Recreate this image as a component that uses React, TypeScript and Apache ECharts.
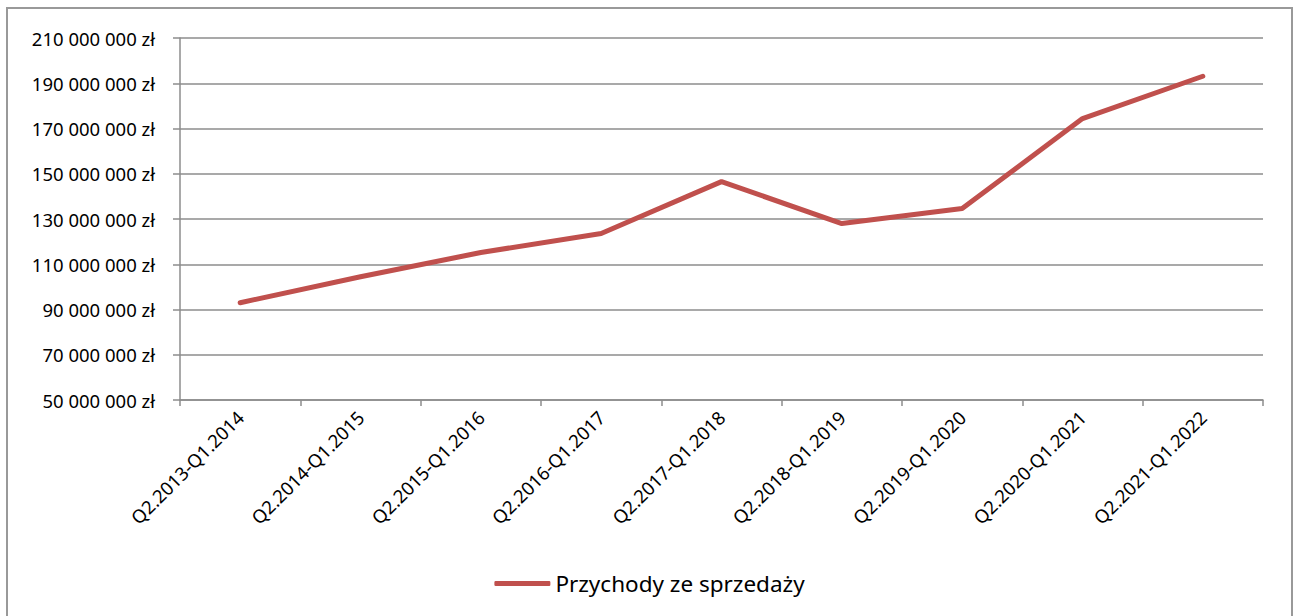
import React, { useEffect, useRef } from "react";
import * as echarts from "echarts";

const categories = [
  "Q2.2013-Q1.2014",
  "Q2.2014-Q1.2015",
  "Q2.2015-Q1.2016",
  "Q2.2016-Q1.2017",
  "Q2.2017-Q1.2018",
  "Q2.2018-Q1.2019",
  "Q2.2019-Q1.2020",
  "Q2.2020-Q1.2021",
  "Q2.2021-Q1.2022",
];
const revenue = [
  93000000, 104500000, 115200000, 123600000, 146500000, 128000000, 134600000,
  174400000, 193100000,
];
const seriesName = "Przychody ze sprzedaży";
const yMin = 50000000;
const yMax = 210000000;
const yStep = 20000000;

const fmt = (v: number) =>
  String(Math.round(v)).replace(/\B(?=(\d{3})+(?!\d))/g, " ") + " zł";

export default function App() {
  const ref = useRef<HTMLDivElement>(null);
  useEffect(() => {
    if (!ref.current) return;
    const chart = echarts.init(ref.current, null, { renderer: "svg" });
    const font = "'Noto Sans', sans-serif";
    chart.setOption({
      animation: false,
      backgroundColor: "#ffffff",
      textStyle: { fontFamily: font },
      grid: { left: 172, top: 29, width: 1083, height: 362 },
      xAxis: {
        type: "category",
        data: categories,
        boundaryGap: true,
        axisLine: { lineStyle: { color: "#8c8c8c", width: 1.5 } },
        axisTick: { show: true, length: 6, lineStyle: { color: "#8c8c8c", width: 1.5 } },
        axisLabel: {
          rotate: 45,
          fontSize: 18.5,
          color: "#000",
          fontFamily: font,
          margin: 14,
        },
      },
      yAxis: {
        type: "value",
        min: yMin,
        max: yMax,
        interval: yStep,
        axisLine: { show: true, lineStyle: { color: "#8c8c8c", width: 1.5 } },
        axisTick: { show: true, length: 7, lineStyle: { color: "#8c8c8c", width: 1.5 } },
        splitLine: { lineStyle: { color: "#8c8c8c", width: 1.5 } },
        axisLabel: {
          formatter: fmt,
          fontSize: 18.5,
          color: "#000",
          fontFamily: font,
          margin: 25,
        },
      },
      legend: {
        show: true,
        bottom: 16,
        left: "center",
        icon: "roundRect",
        itemWidth: 56,
        itemHeight: 5,
        textStyle: { fontSize: 22.5, color: "#000", fontFamily: font },
        data: [seriesName],
      },
      series: [
        {
          name: seriesName,
          type: "line",
          data: revenue,
          showSymbol: false,
          symbol: "none",
          lineStyle: { color: "#c0504d", width: 5, cap: "round", join: "round" },
          itemStyle: { color: "#c0504d" },
        },
      ],
    });
    return () => chart.dispose();
  }, []);
  return (
    <div
      style={{
        position: "absolute",
        left: 6,
        top: 7,
        width: 1287,
        height: 609,
        boxSizing: "border-box",
        borderTop: "2px solid #999",
        borderLeft: "2px solid #999",
        borderRight: "2px solid #999",
        borderBottom: "none",
        background: "#fff",
      }}
    >
      <div ref={ref} style={{ width: 1283, height: 607 }} />
    </div>
  );
}
